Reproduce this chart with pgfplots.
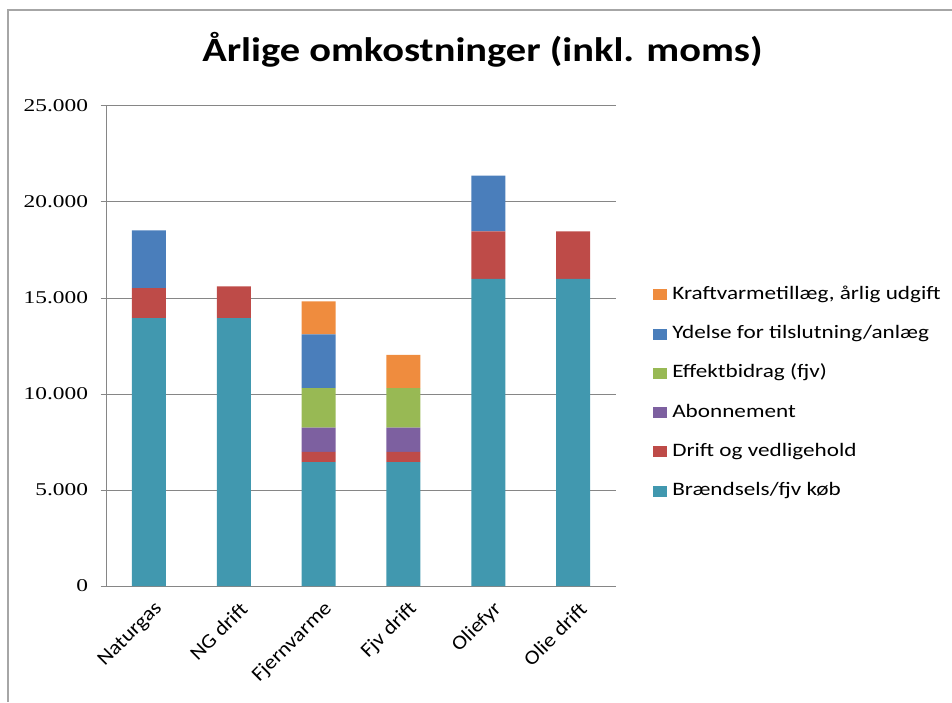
\documentclass[border=0pt]{standalone}
\usepackage{pgfplots}
\pgfplotsset{compat=1.18}
\usepackage{fontspec}
\setmainfont{Carlito}
\newfontfamily\widesans[FakeStretch=1.22]{Carlito}
\newfontfamily\titlesans[FakeStretch=1.19]{Carlito}
\newfontfamily\xsans[FakeStretch=1.12]{Carlito}
\newfontfamily\tnr[FakeStretch=1.3]{Liberation Serif}
\definecolor{cteal}{HTML}{4198AF}
\definecolor{cred}{HTML}{BE4B48}
\definecolor{cpurple}{HTML}{7D60A0}
\definecolor{cgreen}{HTML}{98B954}
\definecolor{cblue}{HTML}{4A7EBB}
\definecolor{corange}{HTML}{EF8C3E}
\definecolor{cgrid}{HTML}{868686}
\definecolor{cframe}{HTML}{A6A6A6}
\begin{document}
\begin{tikzpicture}[x=1pt,y=1pt]
\useasboundingbox (0,0) rectangle (952,702);
\draw[cframe, line width=2pt] (7.5,0) -- (7.5,691.5) -- (952,691.5);
\node[anchor=base, font=\titlesans\bfseries\fontsize{34}{38}\selectfont] at (482.5,640) {Årlige omkostninger (inkl. moms)};
\begin{axis}[
  at={(106.5pt,116pt)}, anchor=south west,
  scale only axis, width=509pt, height=480pt,
  ybar stacked, bar width=34pt,
  xmin=-0.5, xmax=5.5, ymin=0, ymax=25000,
  axis lines*=left,
  axis line style={cgrid, line width=1pt},
  xtick={0,1,2,3,4,5},
  xticklabels={Naturgas, NG drift, Fjernvarme, Fjv drift, Oliefyr, Olie drift},
  x tick label style={font=\xsans\fontsize{20}{22}\selectfont, rotate=45, anchor=east, yshift=-17pt, xshift=1pt},
  major x tick style={draw=none},
  extra x ticks={-0.5,0.5,1.5,2.5,3.5,4.5,5.5},
  extra x tick labels={},
  extra x tick style={major tick length=6pt, tick align=outside, tick style={cgrid, line width=1pt, draw=cgrid}},
  ytick={0,5000,10000,15000,20000,25000},
  tick align=outside, major tick length=6pt,
  tick style={cgrid, line width=1pt},
  ymajorgrids, grid style={cgrid, line width=1pt},
  /pgf/number format/.cd, 1000 sep={.}, assume math mode=true, /pgfplots/.cd,
  scaled y ticks=false,
  y tick label style={font=\tnr\fontsize{18}{18}\selectfont, xshift=-9pt},
  reverse legend,
  legend cell align=left,
  legend style={at={(1.068,0.629)}, anchor=north west, draw=none, fill=none,
    font=\widesans\fontsize{19}{22}\selectfont,
    nodes={inner sep=0pt, text height=13pt, text depth=4pt},
    row sep=22.3pt, column sep=5pt},
  legend image code/.code={\fill[#1] (0pt,-5.5pt) rectangle (14pt,5.5pt);},
  every axis plot/.append style={draw=none},
]
\addplot[fill=cteal] coordinates {(0,13950) (1,13950) (2,6450) (3,6450) (4,16000) (5,16000)};
\addplot[fill=cred] coordinates {(0,1570) (1,1650) (2,530) (3,530) (4,2470) (5,2470)};
\addplot[fill=cpurple] coordinates {(0,0) (1,0) (2,1270) (3,1270) (4,0) (5,0)};
\addplot[fill=cgreen] coordinates {(0,0) (1,0) (2,2050) (3,2050) (4,0) (5,0)};
\addplot[fill=cblue] coordinates {(0,3000) (1,0) (2,2800) (3,0) (4,2910) (5,0)};
\addplot[fill=corange] coordinates {(0,0) (1,0) (2,1720) (3,1735) (4,0) (5,0)};
\legend{Brændsels/fjv køb, Drift og vedligehold, Abonnement, Effektbidrag (fjv), Ydelse for tilslutning/anlæg, {Kraftvarmetillæg, årlig udgift}}
\end{axis}
\end{tikzpicture}
\end{document}
